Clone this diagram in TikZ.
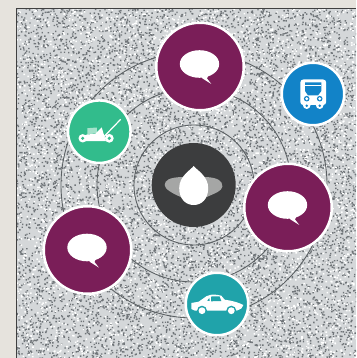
\documentclass[tikz,border=0pt]{standalone}
\definecolor{pagebeige}{RGB}{230,227,221}
\definecolor{speckbase}{RGB}{212,215,217}
\definecolor{speckdark}{RGB}{112,117,121}
\definecolor{ringgrey}{RGB}{92,97,100}
\definecolor{chatmaroon}{RGB}{122,30,88}
\definecolor{busblue}{RGB}{18,131,200}
\definecolor{mowergreen}{RGB}{50,188,140}
\definecolor{mowerpale}{RGB}{165,226,203}
\definecolor{carteal}{RGB}{32,163,170}
\definecolor{hubdark}{RGB}{60,61,62}
\definecolor{hubgrey}{RGB}{165,166,165}
\begin{document}
\begin{tikzpicture}[
    x=1pt, y=-1pt,
    badge/.style={circle, draw=white, line width=2.5pt, inner sep=0pt},
    bigbadge/.style={badge, minimum size=87.5pt, fill=chatmaroon},
    smallbadge/.style={badge, minimum size=62.5pt},
    ring/.style={draw=ringgrey, line width=0.9pt}
  ]
  \useasboundingbox (0,0) rectangle (356,358);
  \fill[pagebeige] (0,0) rectangle (356,358);
  \fill[speckbase] (16,8) rectangle (356,358);
  \pgfmathsetseed{7}
  \begin{scope}
    \clip (16,8) rectangle (356,358);
    \foreach \row in {8,10,...,358} {
      \fill[speckdark] \foreach \n in {1,...,56} {({16+340*rnd},{\row+2*rnd}) rectangle ++(1.4,1.4)};
      \fill[white] \foreach \n in {1,...,22} {({16+340*rnd},{\row+2*rnd}) rectangle ++(1.6,1.5)};
    }
  \end{scope}
  \draw[black!75, line width=1pt] (16.5,358) -- (16.5,8.5) -- (356,8.5);

  \coordinate (middle) at (194,185);
  \draw[ring] (middle) circle [radius=60];
  \draw[ring] (middle) circle [radius=97];
  \draw[ring] (middle) circle [radius=133];

  \node[circle, fill=hubdark, inner sep=0pt, minimum size=84pt] (hub) at (193.7,185) {};
  \node[bigbadge] (chatA) at (200,66.5) {};
  \node[bigbadge] (chatB) at (288,207.5) {};
  \node[bigbadge] (chatC) at (87.5,250) {};
  \node[smallbadge, fill=busblue] (bus) at (313,94) {};
  \node[smallbadge, fill=mowergreen] (mower) at (99.3,131.7) {};
  \node[smallbadge, fill=carteal] (car) at (217,304) {};

  \foreach \chat in {chatA,chatB,chatC} {
    \begin{scope}[shift={(\chat.center)}]
      \fill[white] (-0.5,-2.5) ellipse [x radius=19.7, y radius=13.8];
      \fill[white] (1.3,10.5) -- (8.7,8) -- (7,12) -- (11.3,17.5) -- (3,12.3) -- cycle;
    \end{scope}
  }

  \begin{scope}[shift={(hub.center)}]
    \fill[hubgrey] (-29,0) .. controls (-29,-5) and (-24,-7.5) .. (-12,-8) -- (12,-8)
      .. controls (24,-7.5) and (29,-4) .. (28.7,1.7) .. controls (28,6) and (22,8) .. (13,12)
      -- (-13,12) .. controls (-22,8) and (-29,4) .. (-29,0) -- cycle;
    \fill[white] (0,-19) .. controls (3,-15) and (14.5,-9) .. (14.5,3)
      .. controls (14.5,14) and (8,20) .. (0,20) .. controls (-8,20) and (-14.5,14) .. (-14.5,3)
      .. controls (-14.5,-9) and (-3,-15) .. (0,-19) -- cycle;
  \end{scope}

  \begin{scope}[shift={(bus.center)}]
    \fill[white, rounded corners=3pt] (-12.7,-14.5) rectangle (13.2,11);
    \fill[white] (-6.3,11.2) circle [radius=3.8];
    \fill[white] (6.7,11.2) circle [radius=3.8];
    \fill[busblue] (-8,-11.5) rectangle (8.3,-3) (-8,-3) -- (8.3,-3) -- (5,1.5) -- (-5,1.5) -- cycle;
    \draw[white, line width=0.8pt] (-8,-8.5) -- (8.3,-8.5);
    \fill[busblue] (-6.3,4.7) circle [radius=2.8];
    \fill[busblue] (6.7,4.7) circle [radius=2.8];
    \fill[white] (-6.3,4.7) circle [radius=1.6];
    \fill[white] (6.7,4.7) circle [radius=1.6];
    \fill[busblue] (-6.3,11.8) circle [radius=1.4];
    \fill[busblue] (6.7,11.8) circle [radius=1.4];
  \end{scope}

  \begin{scope}[shift={(mower.center)}]
    \fill[mowerpale] (-12,-3.5) -- (-2.6,-4.2) -- (-2,1.5) -- (-12,2.7) -- cycle;
    \fill[white] (-19.3,5.7) -- (-12,2.7) -- (-4.3,2.3) -- (2.4,-4.3) -- (4.7,3.3) -- (6.7,9.5) -- (-16,9.5) -- cycle;
    \draw[white, line width=1.2pt] (21.4,-12.4) -- (4,5.6);
    \fill[white] (-16.6,6.6) circle [radius=4.2];
    \fill[white] (10,6.6) circle [radius=4.4];
    \fill[mowergreen] (-16.6,6.6) circle [radius=1.7];
    \fill[mowergreen] (10,6.6) circle [radius=1.8];
  \end{scope}

  \begin{scope}[shift={(car.center)}]
    \fill[white] (-25.7,-1) -- (-25.7,5) -- (-22,6.7) -- (20,6.5) .. controls (24,5) and (26,4) .. (26.3,1)
      .. controls (23,-1) and (15,-3.5) .. (7.7,-4.3) -- (4.3,-8.3)
      .. controls (0,-9.5) and (-5,-9.7) .. (-7,-9) -- (-10.7,-7.7) -- (-18.3,-2.3) -- cycle;
    \fill[carteal] (-5.7,-7.7) -- (2.5,-7.7) -- (4.3,-3) -- (-6,-2.7) -- cycle;
    \fill[carteal] (-9.7,-3.3) -- (-7.7,-6) -- (-7.3,-3) -- cycle;
    \fill[carteal] (-15,6.7) circle [radius=5];
    \fill[carteal] (14.3,6.7) circle [radius=5];
    \fill[white] (-15,6.7) circle [radius=3.4];
    \fill[white] (14.3,6.7) circle [radius=3.4];
  \end{scope}
\end{tikzpicture}
\end{document}
